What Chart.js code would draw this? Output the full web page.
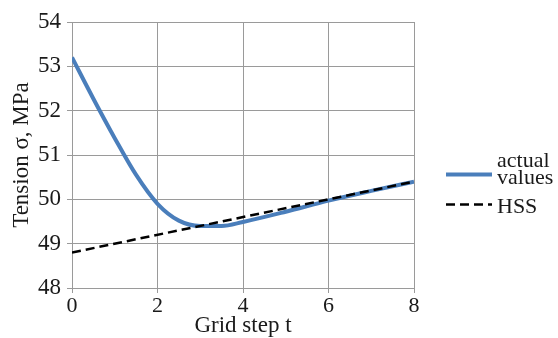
<!DOCTYPE html>
<html>
<head>
<meta charset="utf-8">
<script src="https://cdn.jsdelivr.net/npm/chart.js@4.4.1/dist/chart.umd.min.js"></script>
<style>
  html, body { margin: 0; padding: 0; background: #fff; }
  #wrap { width: 558px; height: 338px; }
</style>
</head>
<body>
<div id="wrap"><canvas id="chart" width="558" height="338"></canvas></div>
<script>
// grid step t and measured tension (MPa)
const stepT        = [0, 0.5, 1, 1.5, 2, 2.5, 3, 3.5, 4, 5, 6, 7, 8];
const actualValues = [53.2, 52.27, 51.38, 50.55, 49.9, 49.52, 49.4, 49.4, 49.49, 49.72, 49.97, 50.19, 50.4];
// HSS reference line
const hssT      = [0, 8];
const hssValues = [48.8, 50.4];

const SERIF = "'Liberation Serif', 'Times New Roman', serif";
const GRID  = '#9a9a9a';
const INK   = '#1a1a1a';
const BLUE  = '#4a7ebb';

const pts = (xs, ys) => xs.map((x, i) => ({ x, y: ys[i] }));

// legend drawn at the right of the plot, two-line label for the first item
const sideLegend = {
  id: 'sideLegend',
  afterDraw(chart) {
    const { ctx, chartArea } = chart;
    const x0 = chartArea.right + 32, x1 = x0 + 46, tx = x1 + 5;
    const cy = (chartArea.top + chartArea.bottom) / 2;
    const items = [
      { ds: chart.data.datasets[0], lineY: cy + 19.5, base: [cy + 12, cy + 29] },
      { ds: chart.data.datasets[1], lineY: cy + 49.5, base: [cy + 58] },
    ];
    ctx.save();
    ctx.font = '22px ' + SERIF;
    ctx.fillStyle = INK;
    ctx.textBaseline = 'alphabetic';
    ctx.textAlign = 'left';
    items.forEach(it => {
      ctx.beginPath();
      ctx.strokeStyle = it.ds.borderColor;
      ctx.lineWidth = it.ds.borderWidth;
      ctx.setLineDash(it.ds.borderDash || []);
      ctx.moveTo(x0, it.lineY);
      ctx.lineTo(x1, it.lineY);
      ctx.stroke();
      const lines = Array.isArray(it.ds.label) ? it.ds.label : [it.ds.label];
      lines.forEach((t, i) => ctx.fillText(t, tx, it.base[i]));
    });
    ctx.restore();
  },
};

new Chart(document.getElementById('chart'), {
  type: 'scatter',
  data: {
    datasets: [
      {
        label: ['actual', 'values'], data: pts(stepT, actualValues),
        showLine: true, borderColor: BLUE, borderWidth: 4,
        pointRadius: 0, cubicInterpolationMode: 'monotone', order: 2,
      },
      {
        label: 'HSS', data: pts(hssT, hssValues),
        showLine: true, borderColor: '#000', borderWidth: 2.5, borderDash: [9, 5],
        pointRadius: 0, order: 1,
      },
    ],
  },
  options: {
    responsive: false, animation: false,
    layout: { padding: { left: 0, top: 22, right: 144, bottom: 0 } },
    plugins: { legend: { display: false }, tooltip: { enabled: false } },
    scales: {
      x: {
        type: 'linear', min: 0, max: 8,
        ticks: { stepSize: 2, color: INK, padding: 2, font: { family: SERIF, size: 22, lineHeight: 1 } },
        grid: { color: GRID, lineWidth: 1, tickLength: 5 },
        border: { color: GRID },
        title: { display: true, text: 'Grid step t', color: INK, padding: { top: 0, bottom: 1 },
                 font: { family: SERIF, size: 23, lineHeight: 1 } },
        afterFit: s => { s.height = 50; },
      },
      y: {
        min: 48, max: 54,
        ticks: { stepSize: 1, color: INK, padding: 6, font: { family: SERIF, size: 23 } },
        grid: { color: GRID, lineWidth: 1, tickLength: 5 },
        border: { color: GRID },
        title: { display: true, text: 'Tension σ, MPa', color: INK, padding: { top: 10, bottom: 0 },
                 font: { family: SERIF, size: 23, lineHeight: 1 } },
        afterFit: s => { s.width = 72; },
      },
    },
  },
  plugins: [sideLegend],
});
</script>
</body>
</html>
